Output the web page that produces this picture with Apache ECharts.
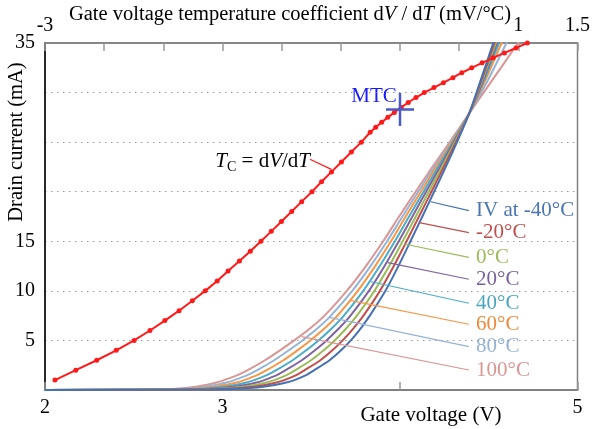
<!DOCTYPE html>
<html>
<head>
<meta charset="utf-8">
<script src="https://cdn.jsdelivr.net/npm/echarts@6/dist/echarts.min.js"></script>
<style>
  html, body { margin: 0; padding: 0; background: #fff; }
  #chart { width: 593px; height: 429px; }
</style>
</head>
<body>
<div id="chart"></div>
<script>
// Drain current levels (mA) at which each IV curve's gate voltage is given
const ivCurrent = [0, 0.05, 0.1, 0.2, 0.35, 0.5, 0.75, 1, 1.5, 2, 3, 4, 5, 6.25, 7.5, 10, 12.5, 15, 17.5, 20, 22.5, 25, 27.9, 31, 35, 38];

// Gate voltage (V) of each IV curve at the currents above
const vgsM40 = [2.0, 2.932, 3.040, 3.154, 3.240, 3.294, 3.359, 3.405, 3.471, 3.517, 3.603, 3.668, 3.723, 3.780, 3.830, 3.918, 3.991, 4.059, 4.126, 4.192, 4.258, 4.321, 4.39, 4.450, 4.525, 4.577];
const vgsM20 = [2.0, 2.892, 2.995, 3.102, 3.186, 3.239, 3.303, 3.348, 3.416, 3.463, 3.551, 3.619, 3.677, 3.739, 3.794, 3.887, 3.965, 4.037, 4.107, 4.177, 4.247, 4.315, 4.39, 4.454, 4.532, 4.587];
const vgs0   = [2.0, 2.852, 2.949, 3.050, 3.131, 3.183, 3.247, 3.292, 3.361, 3.410, 3.499, 3.570, 3.632, 3.699, 3.757, 3.856, 3.939, 4.015, 4.089, 4.162, 4.237, 4.309, 4.39, 4.458, 4.540, 4.598];
const vgs20  = [2.0, 2.812, 2.904, 2.998, 3.077, 3.128, 3.191, 3.235, 3.306, 3.356, 3.447, 3.521, 3.586, 3.658, 3.721, 3.825, 3.913, 3.993, 4.070, 4.147, 4.226, 4.303, 4.39, 4.463, 4.548, 4.610];
const vgs40  = [2.0, 2.772, 2.858, 2.947, 3.023, 3.072, 3.134, 3.179, 3.250, 3.303, 3.395, 3.471, 3.541, 3.618, 3.684, 3.793, 3.886, 3.971, 4.051, 4.133, 4.215, 4.298, 4.39, 4.468, 4.558, 4.625];
const vgs60  = [2.0, 2.732, 2.813, 2.895, 2.969, 3.017, 3.078, 3.122, 3.195, 3.249, 3.343, 3.422, 3.495, 3.577, 3.648, 3.762, 3.860, 3.949, 4.032, 4.118, 4.204, 4.292, 4.39, 4.475, 4.572, 4.645];
const vgs80  = [2.0, 2.692, 2.767, 2.843, 2.914, 2.961, 3.022, 3.066, 3.140, 3.196, 3.291, 3.373, 3.450, 3.537, 3.611, 3.731, 3.834, 3.927, 4.014, 4.103, 4.194, 4.286, 4.39, 4.488, 4.600, 4.685];
const vgs100 = [2.0, 2.652, 2.722, 2.791, 2.860, 2.906, 2.966, 3.009, 3.085, 3.142, 3.239, 3.324, 3.404, 3.496, 3.575, 3.700, 3.808, 3.905, 3.995, 4.088, 4.183, 4.280, 4.39, 4.510, 4.665, 4.780];

// Curve labels, coldest first
const ivLabels = ['IV at -40°C', '-20°C', '0°C', '20°C', '40°C', '60°C', '80°C', '100°C'];

// Temperature coefficient dV/dT (mV/°C) versus drain current (mA)
const tcCurrent = [1, 2, 3, 4, 5, 6, 7, 8, 9, 10, 11, 12, 13, 14, 15, 16, 17, 18, 19, 20, 21, 22, 23, 24, 25, 26,
  26.5, 27, 27.5, 28, 28.5, 29, 29.5, 30, 30.5, 31, 31.5, 32, 32.5, 33, 33.5, 34, 34.5, 35];
const tcCoef = [-2.916, -2.740, -2.563, -2.398, -2.247, -2.113, -1.987, -1.867, -1.755, -1.646, -1.545, -1.453,
  -1.357, -1.265, -1.175, -1.088, -1.002, -0.915, -0.831, -0.744, -0.663, -0.579, -0.495, -0.411, -0.327, -0.252,
  -0.205, -0.155, -0.103, -0.048, 0.010, 0.070, 0.135, 0.205, 0.287, 0.367, 0.447, 0.522, 0.606, 0.694, 0.787,
  0.883, 0.980, 1.076];

// Minimum temperature coefficient point: [dV/dT, current]
const mtcPoint = [0, 28.3];

// Tick labels shown on each axis
const bottomTicks = [2, 3, 5];
const topTicks = [-3, 1, 1.5];
const leftTicks = [5, 10, 15, 35];

const FONT = '"Liberation Serif", "Times New Roman", serif';
const ivColors = ['#4672b4', '#c0504d', '#9bbb59', '#8064a2', '#4bacc6', '#f79646', '#95b3d7', '#d99694'];
const ivTextColors = ['#4a75b0', '#c0504d', '#9bbb59', '#7a5f9e', '#4aa6bf', '#ef8a3c', '#95b3d7', '#d99694'];
const ivSets = [vgsM40, vgsM20, vgs0, vgs20, vgs40, vgs60, vgs80, vgs100];

// Leader line anchors: point on the curve and label end point, in [V, mA]
const leaderFrom = [[4.173, 18.99], [4.108, 16.88], [4.024, 14.73], [3.931, 12.84], [3.837, 10.92], [3.725, 9.01], [3.604, 7.33], [3.445, 5.38]];
const leaderTo = [[4.388, 18.09], [4.388, 15.87], [4.388, 13.38], [4.388, 11.17], [4.388, 8.75], [4.388, 6.63], [4.388, 4.37], [4.388, 2.02]];
const labelY = [210.7, 232.7, 257.3, 279.3, 303.3, 324.3, 346.7, 370];

const chart = echarts.init(document.getElementById('chart'));

const ivSeries = [];
for (let k = ivSets.length - 1; k >= 0; k--) {
  const vgs = ivSets[k];
  ivSeries.push({
    type: 'line',
    name: ivLabels[k],
    xAxisIndex: 0,
    yAxisIndex: 0,
    data: ivCurrent.map((c, i) => [vgs[i], c]),
    showSymbol: false,
    smooth: 0.3,
    clip: true,
    lineStyle: { color: ivColors[k], width: 2 },
    itemStyle: { color: ivColors[k] },
    z: 2,
    markLine: {
      silent: true,
      symbol: 'none',
      label: { show: false },
      lineStyle: { color: ivColors[k], width: 1.2, type: 'solid' },
      data: [[{ coord: leaderFrom[k] }, { coord: leaderTo[k] }]]
    }
  });
}

const rich = {
  i: { fontFamily: FONT, fontSize: 20.5, fontStyle: 'italic', lineHeight: 26 },
  n: { fontFamily: FONT, fontSize: 20.5, lineHeight: 26 }
};

const graphics = [
  {
    type: 'text',
    x: 290, y: 15,
    style: {
      text: '{n|Gate voltage temperature coefficient d}{i|V}{n| / d}{i|T}{n| (mV/°C)}',
      rich: rich, align: 'center', verticalAlign: 'middle', fill: '#000'
    }
  },
  {
    type: 'text',
    x: 431, y: 415,
    style: { text: 'Gate voltage (V)', font: '21px ' + FONT, fill: '#000', align: 'center', verticalAlign: 'middle' }
  },
  {
    type: 'text',
    x: 17, y: 142,
    rotation: Math.PI / 2,
    style: { text: 'Drain current (mA)', font: '20.5px ' + FONT, fill: '#000', align: 'center', verticalAlign: 'middle' }
  },
  {
    type: 'text',
    x: 310, y: 161,
    style: {
      text: '{i|T}{sub|C}{n| = d}{i|V}{n|/d}{i|T}',
      rich: {
        i: { fontFamily: FONT, fontSize: 21, fontStyle: 'italic', lineHeight: 26, color: '#ff1a1a' },
        n: { fontFamily: FONT, fontSize: 21, lineHeight: 26, color: '#ff1a1a' },
        sub: { fontFamily: FONT, fontSize: 14, verticalAlign: 'bottom', lineHeight: 14, color: '#ff1a1a' }
      },
      align: 'right', verticalAlign: 'middle'
    }
  },
  {
    type: 'text',
    x: 374, y: 96,
    style: { text: 'MTC', font: '21px ' + FONT, fill: '#1a1aff', align: 'center', verticalAlign: 'middle' }
  }
];
ivLabels.forEach((t, k) => {
  graphics.push({
    type: 'text',
    x: 476, y: labelY[k],
    style: { text: t, font: '21px ' + FONT, fill: ivTextColors[k], align: 'left', verticalAlign: 'middle' }
  });
});

const option = {
  animation: false,
  backgroundColor: '#fff',
  grid: { left: 45, right: 12, top: 43, bottom: 39, show: true, borderColor: '#808080', borderWidth: 1.5 },
  xAxis: [
    {
      type: 'value', position: 'bottom', min: 2, max: 5, interval: 1,
      axisLine: { show: true, onZero: false, lineStyle: { color: '#808080', width: 2 } },
      axisTick: { show: true, inside: true, length: 8, lineStyle: { color: '#999', width: 1.5 } },
      axisLabel: {
        fontFamily: FONT, fontSize: 20, color: '#000', margin: 8,
        formatter: v => (bottomTicks.indexOf(v) >= 0 ? String(v) : '')
      },
      splitLine: { show: false }
    },
    {
      type: 'value', position: 'top', min: -3, max: 1.5, interval: 0.5,
      axisLine: { show: true, onZero: false, lineStyle: { color: '#808080', width: 1.5 } },
      axisTick: { show: true, inside: true, length: 8, lineStyle: { color: '#999', width: 1.5 } },
      axisLabel: {
        fontFamily: FONT, fontSize: 20, color: '#000', margin: 7,
        formatter: v => (topTicks.some(t => Math.abs(t - v) < 1e-9) ? String(v) : '')
      },
      splitLine: { show: false }
    }
  ],
  yAxis: [
    {
      type: 'value', min: 0, max: 35, interval: 5,
      axisLine: { show: true, onZero: false, lineStyle: { color: '#000', width: 1.5 } },
      axisTick: { show: false },
      axisLabel: {
        fontFamily: FONT, fontSize: 20, color: '#000', margin: 10,
        formatter: v => (leftTicks.indexOf(v) >= 0 ? String(v) : '')
      },
      splitLine: { show: true, lineStyle: { color: '#999', width: 1, type: [1.5, 4.5] } }
    }
  ],
  series: ivSeries.concat([
    {
      type: 'line',
      name: 'TC',
      xAxisIndex: 1,
      yAxisIndex: 0,
      data: tcCurrent.map((c, i) => [tcCoef[i], c]),
      symbol: 'circle',
      symbolSize: 5,
      showSymbol: true,
      lineStyle: { color: '#ff1a1a', width: 2 },
      itemStyle: { color: '#ff1a1a' },
      z: 5,
      markLine: {
        silent: true,
        symbol: 'none',
        label: { show: false },
        lineStyle: { color: '#ff1a1a', width: 1.2, type: 'solid' },
        data: [[{ coord: [-0.761, 23.27] }, { coord: [-0.58, 22.25] }]]
      }
    },
    {
      type: 'scatter',
      name: 'MTC',
      xAxisIndex: 1,
      yAxisIndex: 0,
      data: [mtcPoint],
      symbol: 'path://M12.75,0h2.5v15.25h12.75v2.5h-12.75v15.25h-2.5v-15.25h-12.75v-2.5h12.75z',
      symbolSize: [28, 33],
      itemStyle: { color: '#4a5ac8', opacity: 1 },
      z: 6
    }
  ]),
  graphic: graphics
};

chart.setOption(option);
</script>
</body>
</html>
